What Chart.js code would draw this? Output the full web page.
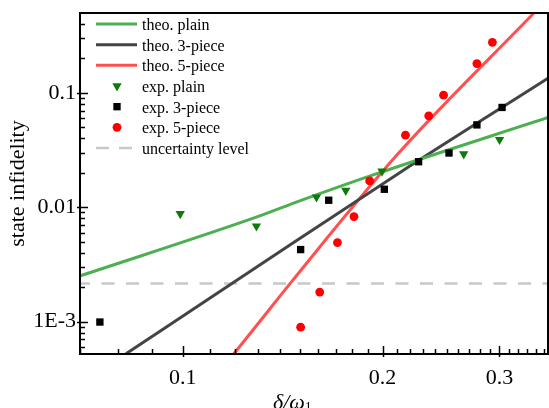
<!DOCTYPE html>
<html><head><meta charset="utf-8">
<script src="https://cdn.jsdelivr.net/npm/chart.js@4/dist/chart.umd.min.js"></script>
<style>html,body{margin:0;padding:0;background:#fff;overflow:hidden}#wrap{width:549px;height:408px;position:relative}</style>
</head><body><div id="wrap"><canvas id="c"></canvas></div>
<script>
// ---- data ----
const theoPlainX = [0.070, 0.1306, 0.150, 0.198, 0.355];
const theoPlainY = [0.002506, 0.00839, 0.01135, 0.02005, 0.0610];
const theo3X = [0.0821, 0.1306, 0.2122, 0.355];
const theo3Y = [0.000522, 0.003126, 0.02005, 0.1344];
const theo5X = [0.1193, 0.1306, 0.1466, 0.2108, 0.3378];
const theo5Y = [0.00052, 0.0010, 0.002313, 0.02915, 0.497];
const expPlainX = [0.0991, 0.1291, 0.1590, 0.1760, 0.1996, 0.2650, 0.3001];
const expPlainY = [0.00877, 0.00683, 0.01223, 0.0140, 0.02063, 0.0292, 0.0390];
const exp3X = [0.0750, 0.1505, 0.1659, 0.2012, 0.2266, 0.2518, 0.2774, 0.3027];
const exp3Y = [0.00099, 0.00426, 0.01151, 0.01436, 0.0250, 0.0298, 0.0525, 0.0746];
const exp5X = [0.1505, 0.1608, 0.1710, 0.1811, 0.1912, 0.2165, 0.2347, 0.2471, 0.2774, 0.2927];
const exp5Y = [0.000893, 0.00181, 0.00491, 0.00828, 0.01697, 0.0427, 0.0630, 0.0955, 0.1806, 0.2772];
const uncertaintyLevel = 0.00215;
const xRange = [0.07, 0.355];
const yRange = [0.00052, 0.5];
const xTickValues = [0.07,0.08,0.09,0.1,0.11,0.12,0.13,0.14,0.15,0.16,0.17,0.18,0.19,0.2,0.21,0.22,0.23,0.24,0.25,0.26,0.27,0.28,0.29,0.3,0.31,0.32,0.33,0.34,0.35];
const xMajorValues = [0.1, 0.2, 0.3];
const xMajorLabels = ['0.1', '0.2', '0.3'];
const yTickValues = [0.0006,0.0007,0.0008,0.0009,0.001,0.002,0.003,0.004,0.005,0.006,0.007,0.008,0.009,0.01,0.02,0.03,0.04,0.05,0.06,0.07,0.08,0.09,0.1,0.2,0.3,0.4];
const yMajorValues = [0.001, 0.01, 0.1];
const yMajorLabels = ['1E-3', '0.01', '0.1'];
const seriesLabels = ['theo. plain','theo. 3-piece','theo. 5-piece','exp. plain','exp. 3-piece','exp. 5-piece','uncertainty level'];

const zip = (xs, ys) => xs.map((x, i) => ({x, y: ys[i]}));
const near = (a, b) => Math.abs(a - b) / b < 1e-6;
const majorIndex = (v, arr) => arr.findIndex(m => near(v, m));
const SERIF = '"Liberation Serif", "Times New Roman", serif';

const datasets = [
  {label: seriesLabels[0], type: 'line', data: zip(theoPlainX, theoPlainY), borderColor: '#4CAF50', borderWidth: 3, pointRadius: 0, fill: false, order: 1, cubicInterpolationMode: 'monotone'},
  {label: seriesLabels[1], type: 'line', data: zip(theo3X, theo3Y), borderColor: '#444444', borderWidth: 3, pointRadius: 0, fill: false, order: 1, cubicInterpolationMode: 'monotone'},
  {label: seriesLabels[2], type: 'line', data: zip(theo5X, theo5Y), borderColor: '#FF5050', borderWidth: 3, pointRadius: 0, fill: false, order: 1, cubicInterpolationMode: 'monotone'},
  {label: seriesLabels[3], type: 'scatter', data: zip(expPlainX, expPlainY), pointStyle: 'triangle', rotation: 180, pointRadius: 5.4, pointBackgroundColor: '#0E7A0E', pointBorderWidth: 0, borderColor: '#0E7A0E', backgroundColor: '#0E7A0E', order: 0},
  {label: seriesLabels[4], type: 'scatter', data: zip(exp3X, exp3Y), pointStyle: 'rect', pointRadius: 5.2, pointBackgroundColor: '#000000', pointBorderWidth: 0, borderColor: '#000', backgroundColor: '#000', order: 0},
  {label: seriesLabels[5], type: 'scatter', data: zip(exp5X, exp5Y), pointStyle: 'circle', pointRadius: 4.4, pointBackgroundColor: '#FF0000', pointBorderWidth: 0, borderColor: '#FF0000', backgroundColor: '#FF0000', order: 0},
  {label: seriesLabels[6], type: 'line', data: zip(xRange, [uncertaintyLevel, uncertaintyLevel]), borderColor: '#C8C8C8', borderWidth: 2.5, borderDash: [13, 11.5], borderDashOffset: 3, pointRadius: 0, fill: false, order: 2}
];

const framePlugin = {
  id: 'frameTicks',
  afterDraw(chart) {
    const {ctx, chartArea: a, scales: {x, y}} = chart;
    ctx.save();
    ctx.strokeStyle = '#000';
    ctx.lineWidth = 1.5;
    x.ticks.forEach(t => {
      const px = Math.round(x.getPixelForValue(t.value)) + 0.5;
      const major = majorIndex(t.value, xMajorValues) >= 0;
      ctx.beginPath();
      ctx.moveTo(px, a.bottom + (major ? 3 : 0));
      ctx.lineTo(px, a.bottom - (major ? 8 : 5));
      ctx.stroke();
    });
    y.ticks.forEach(t => {
      const py = Math.round(y.getPixelForValue(t.value)) + 0.5;
      const major = majorIndex(t.value, yMajorValues) >= 0;
      ctx.beginPath();
      ctx.moveTo(a.left - (major ? 3 : 0), py);
      ctx.lineTo(a.left + (major ? 8 : 5), py);
      ctx.stroke();
    });
    ctx.lineWidth = 2;
    ctx.strokeRect(a.left, a.top, a.right - a.left, a.bottom - a.top);
    // x axis title: δ/ω₁
    ctx.fillStyle = '#000';
    ctx.textBaseline = 'alphabetic';
    ctx.textAlign = 'left';
    ctx.font = 'italic 22px ' + SERIF;
    const tx = a.left + 193;
    ctx.fillText('δ/ω', tx, 409);
    const w = ctx.measureText('δ/ω').width;
    ctx.font = '14px ' + SERIF;
    ctx.fillText('1', tx + w, 412);
    // legend
    const legendOrder = [0, 1, 2, 3, 4, 5, 6];
    legendOrder.forEach((di, i) => {
      const ds = chart.data.datasets[di];
      const ry = a.top + 11 + i * 20.67;
      const x0 = a.left + 16, x1 = a.left + 57, xm = a.left + 37;
      if (ds.type === 'line') {
        ctx.save();
        ctx.strokeStyle = ds.borderColor;
        ctx.lineWidth = ds.borderWidth;
        ctx.setLineDash(ds.borderDash ? [13, 10] : []);
        ctx.beginPath();
        ctx.moveTo(x0, ry);
        ctx.lineTo(x1, ry);
        ctx.stroke();
        ctx.restore();
      } else {
        ctx.save();
        ctx.fillStyle = ds.pointBackgroundColor;
        Chart.helpers.drawPoint(ctx, {pointStyle: ds.pointStyle, radius: ds.pointRadius, rotation: ds.rotation || 0, borderWidth: 0}, xm, ry);
        ctx.restore();
      }
      ctx.fillStyle = '#000';
      ctx.font = '16px ' + SERIF;
      ctx.textBaseline = 'alphabetic';
      ctx.fillText(ds.label, a.left + 62, ry + 6);
    });
    ctx.restore();
  }
};

const zeroPad = s => { s.paddingTop = 0; s.paddingBottom = 0; s.paddingLeft = 0; s.paddingRight = 0; };

new Chart(document.getElementById('c'), {
  type: 'scatter',
  data: {datasets},
  options: {
    responsive: true,
    maintainAspectRatio: false,
    devicePixelRatio: 1,
    animation: false,
    layout: {autoPadding: false, padding: {top: 13, right: 1, left: 0, bottom: 0}},
    plugins: {legend: {display: false}, tooltip: {enabled: false}},
    scales: {
      x: {
        type: 'logarithmic', min: xRange[0], max: xRange[1],
        afterBuildTicks: s => { s.ticks = xTickValues.map(v => ({value: v})); },
        afterFit: s => { s.height = 54; zeroPad(s); },
        grid: {display: false, drawTicks: false}, border: {display: false},
        ticks: {
          autoSkip: false, maxRotation: 0, minRotation: 0, padding: 11, color: '#000',
          font: {family: SERIF, size: 22},
          callback: v => { const i = majorIndex(v, xMajorValues); return i >= 0 ? xMajorLabels[i] : ''; }
        },
        title: {display: false}
      },
      y: {
        type: 'logarithmic', min: yRange[0], max: yRange[1],
        afterBuildTicks: s => { s.ticks = yTickValues.map(v => ({value: v})); },
        afterFit: s => { s.width = 80; zeroPad(s); },
        grid: {display: false, drawTicks: false}, border: {display: false},
        ticks: {
          autoSkip: false, padding: 4, color: '#000',
          font: {family: SERIF, size: 22},
          callback: v => { const i = majorIndex(v, yMajorValues); return i >= 0 ? yMajorLabels[i] : ''; }
        },
        title: {display: true, text: 'state infidelity', color: '#000', font: {family: SERIF, size: 22}, padding: {top: 5, bottom: 0}}
      }
    }
  },
  plugins: [framePlugin]
});
</script>
</body></html>
